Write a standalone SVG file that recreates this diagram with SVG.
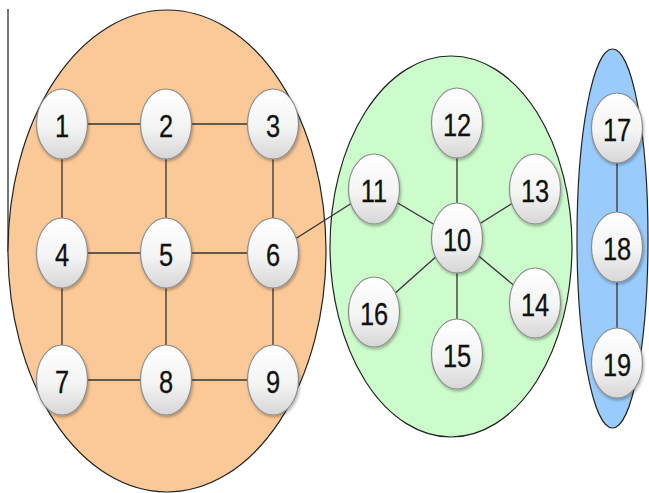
<svg xmlns="http://www.w3.org/2000/svg" width="649" height="493" viewBox="0 0 649 493">
  <defs>
    <linearGradient id="nodeFill" x1="0" y1="0" x2="0" y2="1">
      <stop offset="0" stop-color="#ffffff"/>
      <stop offset="0.55" stop-color="#f4f4f4"/>
      <stop offset="1" stop-color="#d6d6d6"/>
    </linearGradient>
    <filter id="shadow" x="-30%" y="-30%" width="160%" height="160%">
      <feGaussianBlur in="SourceAlpha" stdDeviation="1.5"/>
      <feOffset dx="1" dy="2" result="b"/>
      <feComponentTransfer><feFuncA type="linear" slope="0.3"/></feComponentTransfer>
      <feMerge><feMergeNode/><feMergeNode in="SourceGraphic"/></feMerge>
    </filter>
  </defs>
  <style>
    .cluster { stroke: #222; stroke-width: 1.2; }
    .node ellipse { fill: url(#nodeFill); stroke: #8c8c8c; stroke-width: 1.2; filter: url(#shadow); }
    .node text { font-family: "Liberation Sans", "Noto Sans", sans-serif; font-size: 31px; fill: #111; stroke: #111; stroke-width: 0.3; text-anchor: middle; dominant-baseline: central; }
    .edges line { stroke: #333; stroke-width: 1.3; }
  </style>

  <rect width="649" height="493" fill="#ffffff"/>
  <line x1="8" y1="9" x2="8" y2="252" stroke="#777" stroke-width="2"/>

  <!-- clusters -->
  <g id="cluster-a"><ellipse class="cluster" cx="167" cy="251" rx="159" ry="241" fill="#fbc997"/></g>
  <g id="cluster-b"><ellipse class="cluster" cx="451" cy="246.5" rx="121" ry="190.5" fill="#ccfccc"/></g>
  <g id="cluster-c"><ellipse class="cluster" cx="612.5" cy="238.5" rx="35.5" ry="189.5" fill="#99ccfc"/></g>

  <!-- connectors -->
  <g class="edges" id="edges">
    <line x1="62" y1="124" x2="166" y2="124"/>
    <line x1="166" y1="124" x2="273" y2="124"/>
    <line x1="62" y1="253" x2="166" y2="253"/>
    <line x1="166" y1="253" x2="273" y2="253"/>
    <line x1="62" y1="380" x2="166" y2="380"/>
    <line x1="166" y1="380" x2="273" y2="380"/>
    <line x1="62" y1="124" x2="62" y2="380"/>
    <line x1="166" y1="124" x2="166" y2="380"/>
    <line x1="273" y1="124" x2="273" y2="380"/>
    <line x1="273" y1="253" x2="374" y2="189"/>
    <line x1="457" y1="238" x2="457" y2="123"/>
    <line x1="457" y1="238" x2="374" y2="189"/>
    <line x1="457" y1="238" x2="535" y2="189"/>
    <line x1="457" y1="238" x2="535" y2="303"/>
    <line x1="457" y1="238" x2="457" y2="354"/>
    <line x1="457" y1="238" x2="374" y2="312"/>
    <line x1="617" y1="128" x2="617" y2="363"/>
  </g>

  <!-- nodes: label is narrowed horizontally to a condensed look -->
  <g class="node" id="n1"><ellipse cx="62" cy="124" rx="25.5" ry="35"/><text transform="translate(62 126) scale(0.82 1)">1</text></g>
  <g class="node" id="n2"><ellipse cx="166" cy="124" rx="25.5" ry="35"/><text transform="translate(166 126) scale(0.82 1)">2</text></g>
  <g class="node" id="n3"><ellipse cx="273" cy="124" rx="25.5" ry="35"/><text transform="translate(273 126) scale(0.82 1)">3</text></g>
  <g class="node" id="n4"><ellipse cx="62" cy="253" rx="25.5" ry="35"/><text transform="translate(62 255) scale(0.82 1)">4</text></g>
  <g class="node" id="n5"><ellipse cx="166" cy="253" rx="25.5" ry="35"/><text transform="translate(166 255) scale(0.82 1)">5</text></g>
  <g class="node" id="n6"><ellipse cx="273" cy="253" rx="25.5" ry="35"/><text transform="translate(273 255) scale(0.82 1)">6</text></g>
  <g class="node" id="n7"><ellipse cx="62" cy="380" rx="25.5" ry="35"/><text transform="translate(62 382) scale(0.82 1)">7</text></g>
  <g class="node" id="n8"><ellipse cx="166" cy="380" rx="25.5" ry="35"/><text transform="translate(166 382) scale(0.82 1)">8</text></g>
  <g class="node" id="n9"><ellipse cx="273" cy="380" rx="25.5" ry="35"/><text transform="translate(273 382) scale(0.82 1)">9</text></g>
  <g class="node" id="n10"><ellipse cx="457" cy="238" rx="25.5" ry="35"/><text transform="translate(457 240) scale(0.82 1)">10</text></g>
  <g class="node" id="n11"><ellipse cx="374" cy="189" rx="25.5" ry="35"/><text transform="translate(374 191) scale(0.82 1)">11</text></g>
  <g class="node" id="n12"><ellipse cx="457" cy="123" rx="25.5" ry="35"/><text transform="translate(457 125) scale(0.82 1)">12</text></g>
  <g class="node" id="n13"><ellipse cx="535" cy="189" rx="25.5" ry="35"/><text transform="translate(535 191) scale(0.82 1)">13</text></g>
  <g class="node" id="n14"><ellipse cx="535" cy="303" rx="25.5" ry="35"/><text transform="translate(535 305) scale(0.82 1)">14</text></g>
  <g class="node" id="n15"><ellipse cx="457" cy="354" rx="25.5" ry="35"/><text transform="translate(457 356) scale(0.82 1)">15</text></g>
  <g class="node" id="n16"><ellipse cx="374" cy="312" rx="25.5" ry="35"/><text transform="translate(374 314) scale(0.82 1)">16</text></g>
  <g class="node" id="n17"><ellipse cx="617" cy="128" rx="25.5" ry="35"/><text transform="translate(617 130) scale(0.82 1)">17</text></g>
  <g class="node" id="n18"><ellipse cx="617" cy="247" rx="25.5" ry="35"/><text transform="translate(617 249) scale(0.82 1)">18</text></g>
  <g class="node" id="n19"><ellipse cx="617" cy="363" rx="25.5" ry="35"/><text transform="translate(617 365) scale(0.82 1)">19</text></g>
</svg>
